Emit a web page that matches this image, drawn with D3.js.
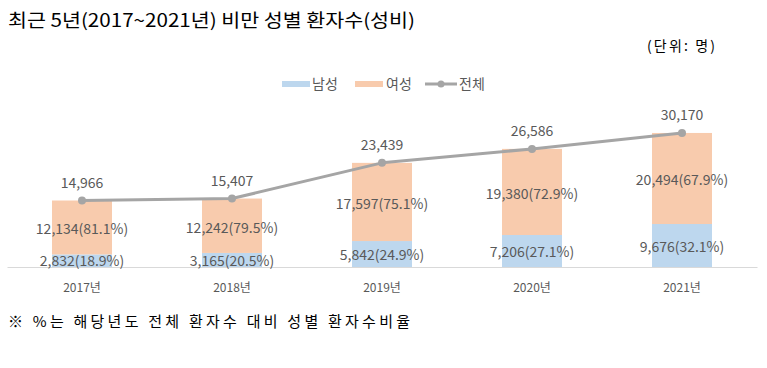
<!DOCTYPE html>
<html><head><meta charset="utf-8">
<script src="https://cdn.jsdelivr.net/npm/d3@7"></script>
<style>
body{margin:0;background:#fff;}
svg{display:block;font-family:"Noto Sans CJK KR","Noto Sans",sans-serif;}
</style></head>
<body><svg id="c" width="767" height="368"></svg>
<script>
const years = ["2017년","2018년","2019년","2020년","2021년"];
const male = [2832,3165,5842,7206,9676];
const female = [12134,12242,17597,19380,20494];
const total = [14966,15407,23439,26586,30170];
const malePct = ["18.9%","20.5%","24.9%","27.1%","32.1%"];
const femalePct = ["81.1%","79.5%","75.1%","72.9%","67.9%"];
const seriesNames = ["남성","여성","전체"];

const svg = d3.select("#c");
const colMale="#BDD7EE", colFemale="#F8CBAD", colLine="#A5A5A5", txt="#595959";
const fmt = d3.format(",");

const x = d3.scaleBand().domain(years).range([7,757]).paddingInner(0.6).paddingOuter(0.3);
const y = d3.scaleLinear().domain([0,35000]).range([267,111.5]);

// title
svg.append("text").attr("x",8).attr("y",27).attr("font-size",18).attr("fill","#000")
  .attr("textLength",407).attr("lengthAdjust","spacingAndGlyphs")
  .text("최근 5년(2017~2021년) 비만 성별 환자수(성비)");
svg.append("text").attr("x",647).attr("y",51).attr("font-size",14).attr("fill","#000")
  .attr("textLength",68).attr("lengthAdjust","spacing")
  .text("(단위: 명)");

// legend
const lg = svg.append("g");
lg.append("rect").attr("x",282).attr("y",81).attr("width",28).attr("height",6).attr("fill",colMale);
lg.append("text").attr("x",312).attr("y",89).attr("font-size",14).attr("fill",txt).text(seriesNames[0]);
lg.append("rect").attr("x",355).attr("y",81).attr("width",28).attr("height",6).attr("fill",colFemale);
lg.append("text").attr("x",386).attr("y",89).attr("font-size",14).attr("fill",txt).text(seriesNames[1]);
lg.append("line").attr("x1",425).attr("x2",457).attr("y1",84).attr("y2",84).attr("stroke",colLine).attr("stroke-width",3);
lg.append("circle").attr("cx",441).attr("cy",84).attr("r",3.5).attr("fill",colLine);
lg.append("text").attr("x",459).attr("y",89).attr("font-size",14).attr("fill",txt).text(seriesNames[2]);

// axis
const xAxis = d3.axisBottom(x).tickSize(0).tickPadding(16);
const ax = svg.append("g").attr("transform","translate(0,267)").call(xAxis);
ax.select(".domain").attr("stroke","#D9D9D9").attr("stroke-width",1);
ax.selectAll("text").attr("font-size",12).attr("fill",txt).attr("font-family","\"Noto Sans CJK KR\",sans-serif");

const bw = x.bandwidth();
// bars
svg.append("g").selectAll("rect").data(years).join("rect")
  .attr("x",d=>x(d)).attr("width",bw)
  .attr("y",(d,i)=>y(male[i])).attr("height",(d,i)=>y(0)-y(male[i])).attr("fill",colMale);
svg.append("g").selectAll("rect").data(years).join("rect")
  .attr("x",d=>x(d)).attr("width",bw)
  .attr("y",(d,i)=>y(male[i]+female[i])).attr("height",(d,i)=>y(male[i])-y(male[i]+female[i])).attr("fill",colFemale);

// line
const cx = d=>x(d)+bw/2;
const line = d3.line().x((d,i)=>cx(years[i])).y(d=>y(d));
svg.append("path").datum(total).attr("d",line).attr("fill","none").attr("stroke",colLine).attr("stroke-width",3).attr("stroke-linejoin","round");
svg.append("g").selectAll("circle").data(total).join("circle")
  .attr("cx",(d,i)=>cx(years[i])).attr("cy",d=>y(d)).attr("r",4).attr("fill",colLine);

// labels
const lab = svg.append("g").attr("font-size",14).attr("fill",txt).attr("text-anchor","middle");
lab.selectAll(".t").data(total).join("text").attr("class","t")
  .attr("x",(d,i)=>cx(years[i])).attr("y",d=>y(d)-13).text(d=>fmt(d));
lab.selectAll(".f").data(female).join("text").attr("class","f")
  .attr("x",(d,i)=>cx(years[i])).attr("y",(d,i)=>(y(male[i])+y(male[i]+d))/2+7)
  .text((d,i)=>fmt(d)+"("+femalePct[i]+")");
lab.selectAll(".m").data(male).join("text").attr("class","m")
  .attr("x",(d,i)=>cx(years[i])).attr("y",(d,i)=>Math.min((y(0)+y(d))/2+6, 266))
  .text((d,i)=>fmt(d)+"("+malePct[i]+")");

// footnote
svg.append("text").attr("x",8).attr("y",327).attr("font-size",15).attr("fill","#000")
  .attr("textLength",402).attr("lengthAdjust","spacing")
  .text("※ %는 해당년도 전체 환자수 대비 성별 환자수비율");
</script></body></html>
